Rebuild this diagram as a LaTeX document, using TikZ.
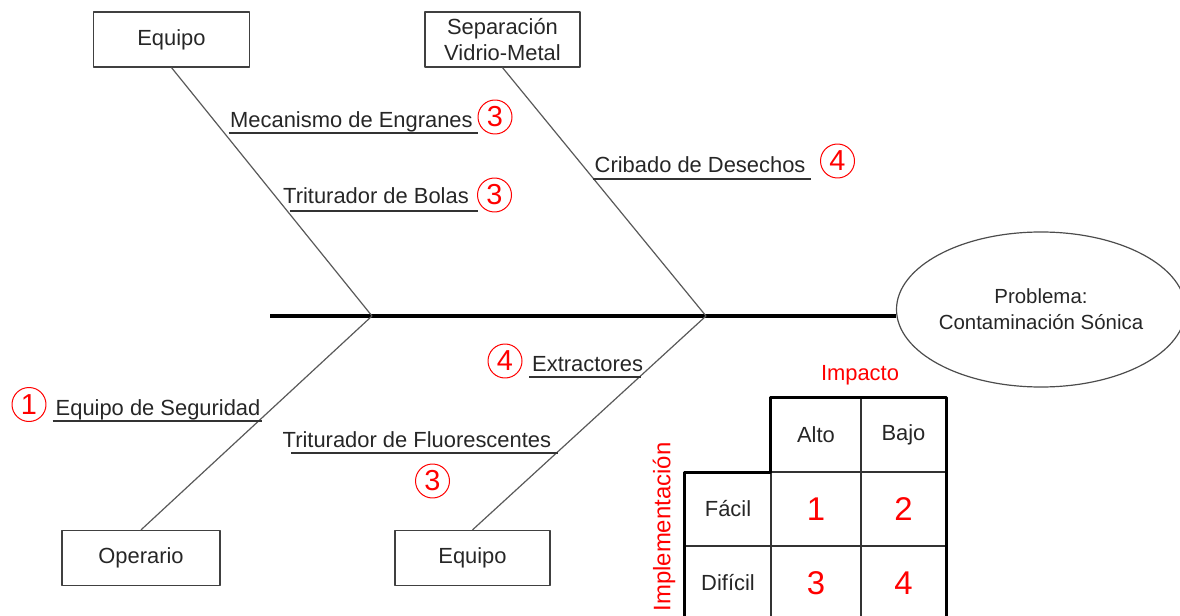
\documentclass[tikz,border=0pt]{standalone}
\usepackage{fontspec}
\setmainfont{Liberation Sans}
\usepackage{tikz}
\usetikzlibrary{shapes}

\begin{document}
\begin{tikzpicture}[x=1bp,y=-1bp,line join=bevel,
  box/.style={draw=black!75,line width=1.2bp,minimum width=156bp,minimum height=55bp,inner sep=0pt,align=center,text=black!85,font=\fontsize{22}{26}\selectfont},
  spine/.style={draw=black,line width=4bp},
  bone/.style={draw=black!65,line width=1.2bp},
  uline/.style={draw=black!80,line width=2bp},
  cause/.style={anchor=base west,inner sep=0pt,text=black!85,font=\fontsize{22}{26}\selectfont},
  rank/.style={draw=red,circle,line width=1bp,minimum size=34bp,inner sep=0pt,text=red,font=\fontsize{29}{29}\selectfont},
  cell/.style={draw=black!80,line width=1.2bp,minimum height=74bp,inner sep=0pt,text=black!85,font=\fontsize{22}{26}\selectfont},
  score/.style={text=red,font=\fontsize{33}{33}\selectfont},
  axis/.style={text=red,inner sep=0pt,font=\fontsize{22}{26}\selectfont},
  frame/.style={draw=black,line width=3.5bp},
]
\useasboundingbox (0,0) rectangle (1180,616);
%%
\node (b0) at (171.5,39.5) [box] {Equipo};
  \node (b1) at (502.5,39.5) [box,minimum width=155bp] {Separación\\Vidrio-Metal};
  \node (b2) at (141,558) [box,minimum width=158bp] {Operario};
  \node (b3) at (472.5,558) [box,minimum width=155bp] {Equipo};
  \node (p) at (1041,309.5) [draw=black!70,line width=1.2bp,ellipse,minimum width=278bp,minimum height=155bp,inner sep=0pt,align=center,text=black!85,font=\fontsize{20.5}{26}\selectfont] {Problema:\\Contaminación Sónica};
  \coordinate (t) at (270,316);
  \coordinate (j0) at (372,316);
  \coordinate (j1) at (706,316);
%%
\node (c0) at (230,127.5) [cause] {Mecanismo de Engranes};
  \node (c1) at (283,204) [cause] {Triturador de Bolas};
  \node (c2) at (594.5,172.5) [cause] {Cribado de Desechos};
  \node (c3) at (532,371.5) [cause] {Extractores};
  \node (c4) at (55.5,415.5) [cause] {Equipo de Seguridad};
  \node (c5) at (282.5,447.5) [cause] {Triturador de Fluorescentes};
  \node (r0) at (495,117) [rank] {3};
  \node (r1) at (494.5,195) [rank] {3};
  \node (r2) at (837.5,161) [rank] {4};
  \node (r3) at (505,361) [rank] {4};
  \node (r4) at (29,404.5) [rank] {1};
  \node (r5) at (432.5,481) [rank] {3};
  \coordinate (u0) at (228.5,133);
  \coordinate (w0) at (478,133);
  \coordinate (u1) at (289.5,211);
  \coordinate (w1) at (478,211);
  \coordinate (u2) at (593,179);
  \coordinate (w2) at (811,179);
  \coordinate (u3) at (529,377);
  \coordinate (w3) at (641,377);
  \coordinate (u4) at (52.5,420.5);
  \coordinate (w4) at (261.5,420.5);
  \coordinate (u5) at (291,452.5);
  \coordinate (w5) at (557.5,452.5);
%%
\node (h1) at (816,435) [cell,minimum width=90bp] {Alto};
  \node (h2) at (903.5,435) [cell,minimum width=85bp] {Bajo};
  \node (f1) at (728,509) [cell,minimum width=86bp] {Fácil};
  \node (f2) at (728,583) [cell,minimum width=86bp] {Difícil};
  \node (n11) at (816,509) [cell,score,minimum width=90bp] {1};
  \node (n12) at (903.5,509) [cell,score,minimum width=85bp] {2};
  \node (n21) at (816,583) [cell,score,minimum width=90bp] {3};
  \node (n22) at (903.5,583) [cell,score,minimum width=85bp] {4};
  \node (ipc) at (860,375) [axis] {Impacto};
  \node (imp) at (664,527) [axis,rotate=90,font=\fontsize{24}{26}\selectfont] {Implementación};
%%
\draw [spine] (t) -- (t -| p.west);
  \draw [bone] (b0.south) -- (j0);
  \draw [bone] (b1.south) -- (j1);
  \draw [bone] (j0) -- (b2.north);
  \draw [bone] (j1) -- (b3.north);
  \draw [uline] (u0) -- (w0);
  \draw [uline] (u1) -- (w1);
  \draw [uline] (u2) -- (w2);
  \draw [uline] (u3) -- (w3);
  \draw [uline] (u4) -- (w4);
  \draw [uline] (u5) -- (w5);
  \draw [frame] (f2.south west) |- (h1.south west) |- (h2.north east) -- (n22.south east);
%
\end{tikzpicture}
\end{document}
